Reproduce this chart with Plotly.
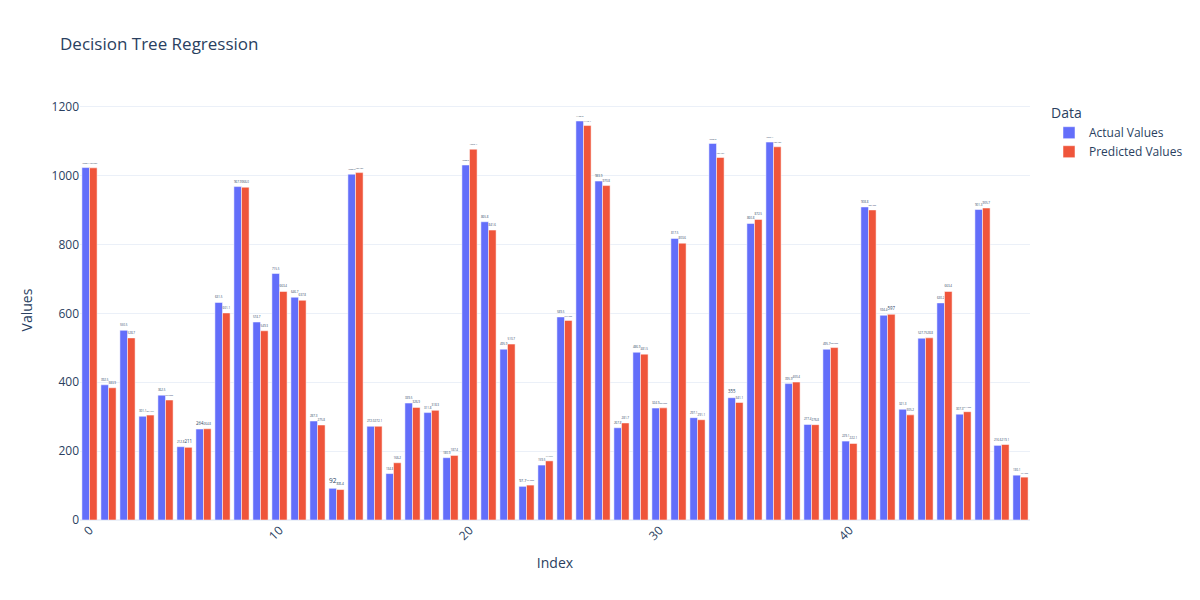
import plotly.graph_objects as go

index = list(range(50))

actual_values = [
    1023.1, 392.5, 550.5, 301.1, 362.5, 212.8, 264, 631.5, 967.9, 574.7,
    715.5, 646.7, 287.3, 92, 1003.9, 272.0, 134.8, 339.5, 311.8, 180.9,
    1030.5, 865.8, 495.9, 97.7, 159.5, 589.5, 1158.3, 983.9, 267.8, 486.9,
    324.9, 817.5, 297.1, 1093.2, 355, 860.8, 1097.1, 395.9, 277.4, 495.7,
    229.1, 908.8, 594.4, 321.3, 527.7, 630.2, 307.3, 901.3, 216.6, 130.1,
]

predicted_values = [
    1022.3333, 383.9, 528.7, 304.4667, 348.2333, 211, 264.8, 601.1, 966.0, 549.3,
    663.4, 637.8, 275.8, 88.4, 1008.4333, 272.1, 166.2, 326.9, 318.3, 187.4,
    1076.4, 841.6, 510.7, 101.3333, 171.6667, 579.4333, 1145.1, 970.8, 281.7, 481.5,
    325.5333, 803.6, 291.1, 1052.4667, 341.1, 872.5, 1083.4333, 400.4, 276.8, 500.5333,
    222.1, 900.1333, 597, 305.2, 528.8, 663.4, 314.4333, 905.7, 219.1, 124.4333,
]

fig = go.Figure()
fig.add_trace(go.Bar(
    x=index, y=actual_values, name="Actual Values",
    text=actual_values, textposition="outside",
    marker_color="#636efa",
))
fig.add_trace(go.Bar(
    x=index, y=predicted_values, name="Predicted Values",
    text=predicted_values, textposition="outside",
    marker_color="#EF553B",
))

fig.update_layout(
    template="plotly_white",
    title="Decision Tree Regression",
    barmode="group",
    width=1200, height=600,
    xaxis=dict(title="Index", tickangle=-45),
    yaxis=dict(title="Values"),
    legend=dict(title=dict(text="Data", font=dict(size=14))),
)

fig.write_html("out.html", config={"displayModeBar": False},
               post_script="document.body.style.margin='0';")
